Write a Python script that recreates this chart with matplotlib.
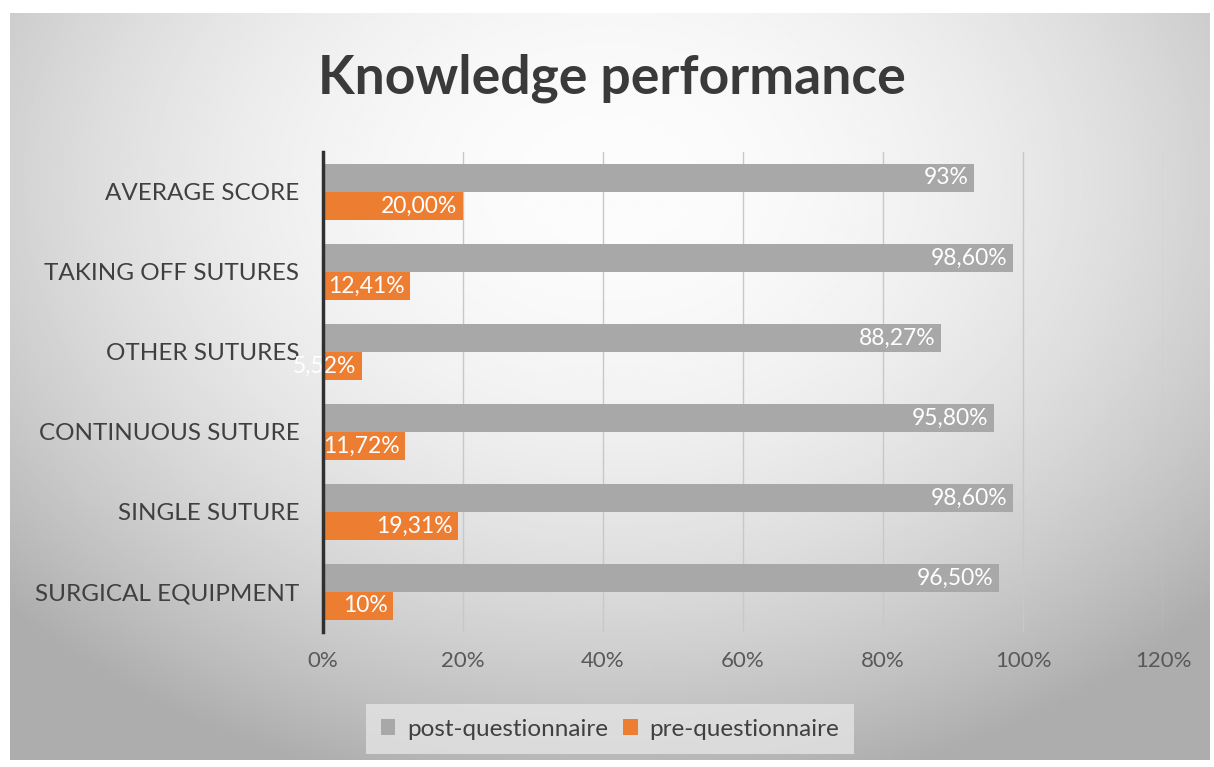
import matplotlib
matplotlib.use("Agg")
import matplotlib.pyplot as plt
import numpy as np

categories = ["SURGICAL EQUIPMENT", "SINGLE SUTURE", "CONTINUOUS SUTURE",
              "OTHER SUTURES", "TAKING OFF SUTURES", "AVERAGE SCORE"]
post = [96.5, 98.6, 95.8, 88.27, 98.6, 93.0]
pre = [10.0, 19.31, 11.72, 5.52, 12.41, 20.0]
post_labels = ["96,50%", "98,60%", "95,80%", "88,27%", "98,60%", "93%"]
pre_labels = ["10%", "19,31%", "11,72%", "5,52%", "12,41%", "20,00%"]
xticks = [0, 20, 40, 60, 80, 100, 120]

plt.rcParams['font.family'] = ['Lato', 'DejaVu Sans']

fig = plt.figure(figsize=(12.14, 7.67), dpi=100)
fig.patch.set_facecolor("white")

# radial gradient background
bg = fig.add_axes([10/1214, 1 - 760/767, 1200/1214, 747/767])
yy, xx = np.mgrid[-1:1:300j, -1:1:500j]
r = np.sqrt((xx / 1.15) ** 2 + ((yy + 0.55) / 1.4) ** 2)
img = 252 - 55 * np.clip(r, 0, 1.2) ** 2
bg.imshow(img, cmap="gray", vmin=0, vmax=255, aspect="auto", extent=[0, 1, 0, 1])
bg.set_axis_off()

ax = fig.add_axes([323/1214, 1 - 632/767, (1163 - 323)/1214, (632 - 152)/767])
ax.patch.set_alpha(0)
y = np.arange(len(categories))
h = 0.35
ax.barh(y + h/2, post, height=h, color="#a8a8a8", label="post-questionnaire", zorder=3)
ax.barh(y - h/2, pre, height=h, color="#ed7d31", label="pre-questionnaire", zorder=3)

for i in range(len(categories)):
    ax.text(post[i] - 0.8, y[i] + h/2, post_labels[i], ha="right", va="center",
            color="white", fontsize=16.5, zorder=4)
    ax.text(pre[i] - 0.8, y[i] - h/2, pre_labels[i], ha="right", va="center",
            color="white", fontsize=16.5, zorder=4)

ax.set_xlim(0, 120)
ax.set_ylim(-0.5, len(categories) - 0.5)
ax.set_xticks(xticks)
ax.set_xticklabels([f"{t}%" for t in xticks], fontsize=16, color="#595959")
ax.set_yticks(y)
ax.set_yticklabels(categories, fontsize=17.5, color="#404040")
ax.tick_params(axis="y", length=0, pad=17)
ax.tick_params(axis="x", length=0, pad=14)
ax.grid(axis="x", color="#c8c8c8", linewidth=1, zorder=0)
for s in ["top", "right", "bottom"]:
    ax.spines[s].set_visible(False)
ax.spines["left"].set_color("#303030")
ax.spines["left"].set_linewidth(2.5)
ax.spines["left"].set_zorder(5)

fig.text(612/1214, 1 - 78/767, "Knowledge performance", ha="center", va="center",
         fontsize=38.5, fontweight="bold", color="#3a3a3a")

leg = fig.legend(loc="center", bbox_to_anchor=(610/1214, 1 - 729/767), ncol=2,
                 fontsize=17.5, frameon=True, handlelength=0.6, handleheight=0.6,
                 handletextpad=0.5, columnspacing=0.6, borderpad=0.6)
leg.get_frame().set_facecolor("#e4e4e4")
leg.get_frame().set_edgecolor("none")
leg.get_frame().set_boxstyle("square", pad=0)
for t in leg.get_texts():
    t.set_color("#404040")

fig.savefig("out.png", dpi=100)
